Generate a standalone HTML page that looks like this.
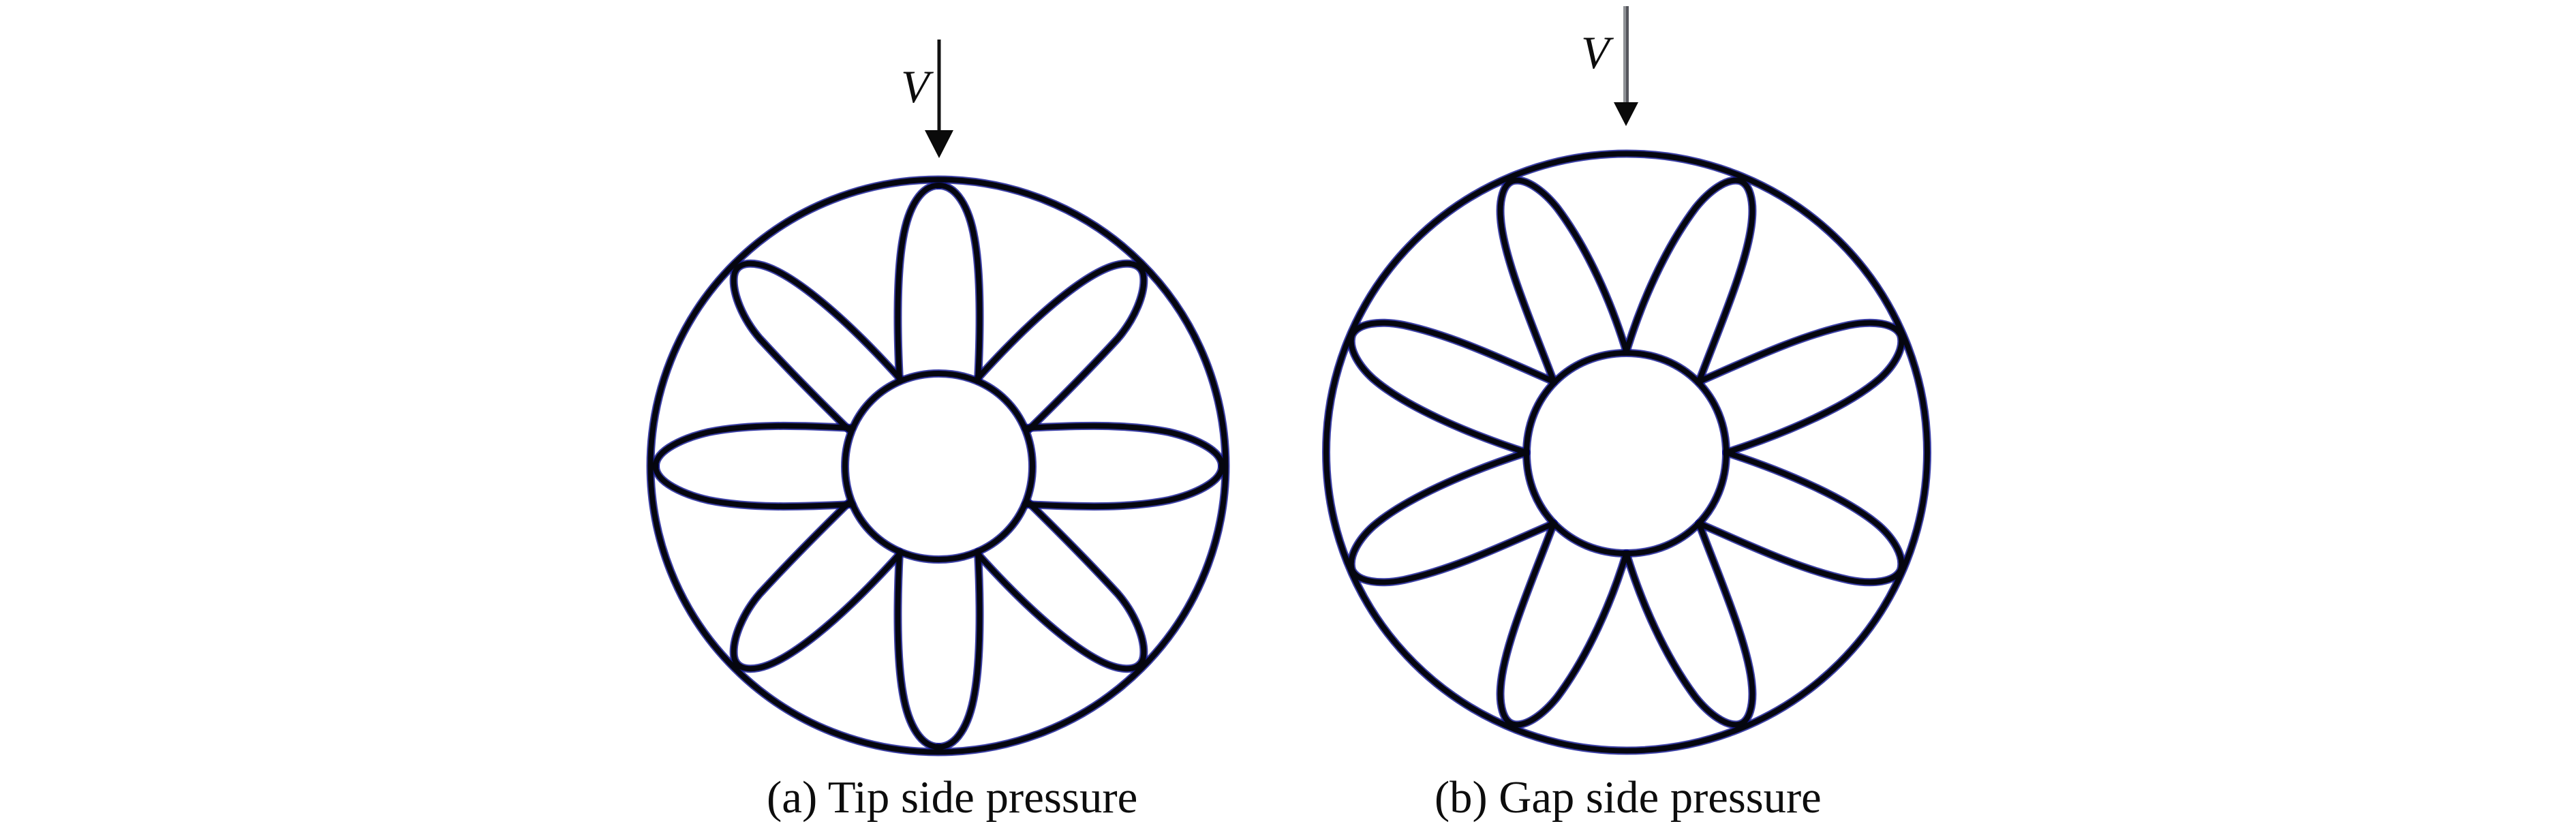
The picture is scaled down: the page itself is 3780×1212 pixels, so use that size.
<!DOCTYPE html>
<html>
<head>
<meta charset="utf-8">
<style>
html,body{margin:0;padding:0;background:#fff;width:3780px;height:1212px;overflow:hidden}
svg{display:block}
text{font-family:"Liberation Serif",serif;fill:#0d0d0d}
</style>
</head>
<body>
<svg width="3780" height="1212" viewBox="0 0 3780 1212" xmlns="http://www.w3.org/2000/svg">
<defs>
<g id="l" fill="none" stroke-linecap="round" stroke-linejoin="round">
  <ellipse cx="1376.5" cy="683.5" rx="422" ry="420"/>
  <path d="M1240 684.500C1240 606.500 1299.500 548 1377.500 548C1455.500 548 1515 606.500 1515 684.500C1515 762.500 1455.500 821 1377.500 821C1299.500 821 1240 762.500 1240 684.500Z"/>
  <g id="lq">
    <path d="M1320 558C1316 480 1316 400 1325 350C1333 303 1352 272 1377.500 272"/>
    <path d="M1250 628C1170 624 1100 622 1040 634C1005 642 962 660 962 684"/>
    <path d="M1245 630C1200 586 1150 535 1115 497C1090 468 1074 430 1077 405C1079 390 1092 384 1113 388C1155 396 1230 455 1321 556"/>
  </g>
  <use href="#lq" transform="matrix(-1 0 0 1 2755 0)"/>
  <use href="#lq" transform="matrix(1 0 0 -1 0 1368)"/>
  <use href="#lq" transform="matrix(-1 0 0 -1 2755 1368)"/>
</g>
<g id="r" fill="none" stroke-linecap="round" stroke-linejoin="round">
  <ellipse cx="2387" cy="663.5" rx="441" ry="438"/>
  <path d="M2240 665C2240 581.500 2303 518 2386.500 518C2470 518 2533 581.500 2533 665C2533 748.500 2470 812 2386.500 812C2303 812 2240 748.500 2240 665Z"/>
  <g id="rq">
    <path d="M2386.500 516C2365 445 2330 365 2285 305C2265 280 2240 262 2222 265C2205 268 2200 295 2202 320C2206 380 2250 480 2280 560"/>
    <path d="M2280 560C2200 525 2130 492 2060 477C2025 470 1992 474 1984 492C1978 512 1995 538 2015 556C2060 595 2150 635 2240 664"/>
  </g>
  <use href="#rq" transform="matrix(-1 0 0 1 4773 0)"/>
  <use href="#rq" transform="matrix(1 0 0 -1 0 1328)"/>
  <use href="#rq" transform="matrix(-1 0 0 -1 4773 1328)"/>
</g>
</defs>

<use href="#l" stroke="#0d1290" stroke-width="12" stroke-opacity="0.8"/>
<use href="#l" stroke="#05060f" stroke-width="8"/>
<use href="#r" stroke="#0d1290" stroke-width="12" stroke-opacity="0.8"/>
<use href="#r" stroke="#05060f" stroke-width="8"/>

<rect x="1375.500" y="58" width="5" height="135" fill="#111"/>
<polygon points="1357,191 1399,191 1378,232" fill="#0a0a0a"/>
<text x="1322" y="150" font-size="68" font-style="italic">V</text>

<rect x="2382" y="9" width="4" height="142" fill="#8f9296"/>
<rect x="2386" y="9" width="4" height="142" fill="#55565c"/>
<polygon points="2368,150 2404,150 2386,185" fill="#0a0a0a"/>
<text x="2320" y="100" font-size="68" font-style="italic">V</text>

<text x="1125" y="1192" font-size="66.900">(a) Tip side pressure</text>
<text x="2105" y="1192" font-size="66.600">(b) Gap side pressure</text>
</svg>
</body>
</html>
